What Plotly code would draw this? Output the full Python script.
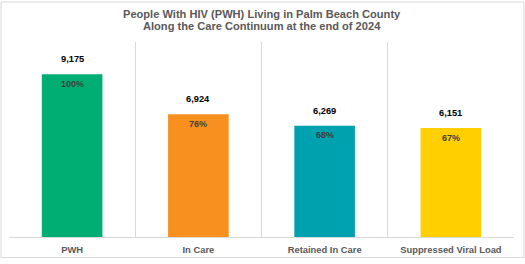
import plotly.graph_objects as go

categories = ["PWH", "In Care", "Retained In Care", "Suppressed Viral Load"]
values = [9175, 6924, 6269, 6151]
pct_labels = ["100%", "76%", "68%", "67%"]
colors = ["#00AE73", "#F7901E", "#00A1AF", "#FFCF00"]
title_lines = ["People With HIV (PWH) Living in Palm Beach County",
               "Along the Care Continuum at the end of 2024"]

FONT = "Liberation Sans, Arial"

fig = go.Figure()
fig.add_trace(go.Bar(
    x=categories, y=values, marker=dict(color=colors, line=dict(width=0)),
    width=0.48, hoverinfo="skip",
))

for c, v, p in zip(categories, values, pct_labels):
    fig.add_annotation(x=c, y=v, text=f"<b>{v:,}</b>", showarrow=False,
                       yanchor="middle", yshift=15,
                       font=dict(family=FONT, size=9.3, color="#000000"))
    fig.add_annotation(x=c, y=v, text=f"<b>{p}</b>", showarrow=False,
                       yanchor="middle", yshift=-9.6,
                       font=dict(family=FONT, size=9, color="#404040"))

for line, yy in zip(title_lines, [1.1435, 1.0815]):
    fig.add_annotation(xref="paper", yref="paper", x=0.5, y=yy, xanchor="center", yanchor="middle",
                       text=f"<b>{line}</b>", showarrow=False,
                       font=dict(family=FONT, size=11.1, color="#595959"))

fig.add_shape(type="rect", xref="paper", yref="paper",
              x0=-0.0158, x1=1.0198, y0=-0.105, y1=1.205,
              line=dict(color="#D9D9D9", width=1), layer="below")

fig.update_layout(
    width=525, height=264,
    margin=dict(l=9, r=11, t=42, b=22),
    paper_bgcolor="white", plot_bgcolor="white",
    showlegend=False,
    xaxis=dict(tickson="boundaries", showgrid=True, gridcolor="#D9D9D9", gridwidth=1,
               showline=True, linecolor="#D9D9D9", ticks="",
               tickvals=categories, ticktext=[f"<b>{c}</b>" for c in categories],
               tickfont=dict(family=FONT, size=9.4, color="#595959"),
               ticklabelstandoff=4,
               fixedrange=True),
    yaxis=dict(range=[0, 11000], showgrid=False, showticklabels=False, zeroline=False,
               showline=False, fixedrange=True),
)

fig.write_html("out.html")
